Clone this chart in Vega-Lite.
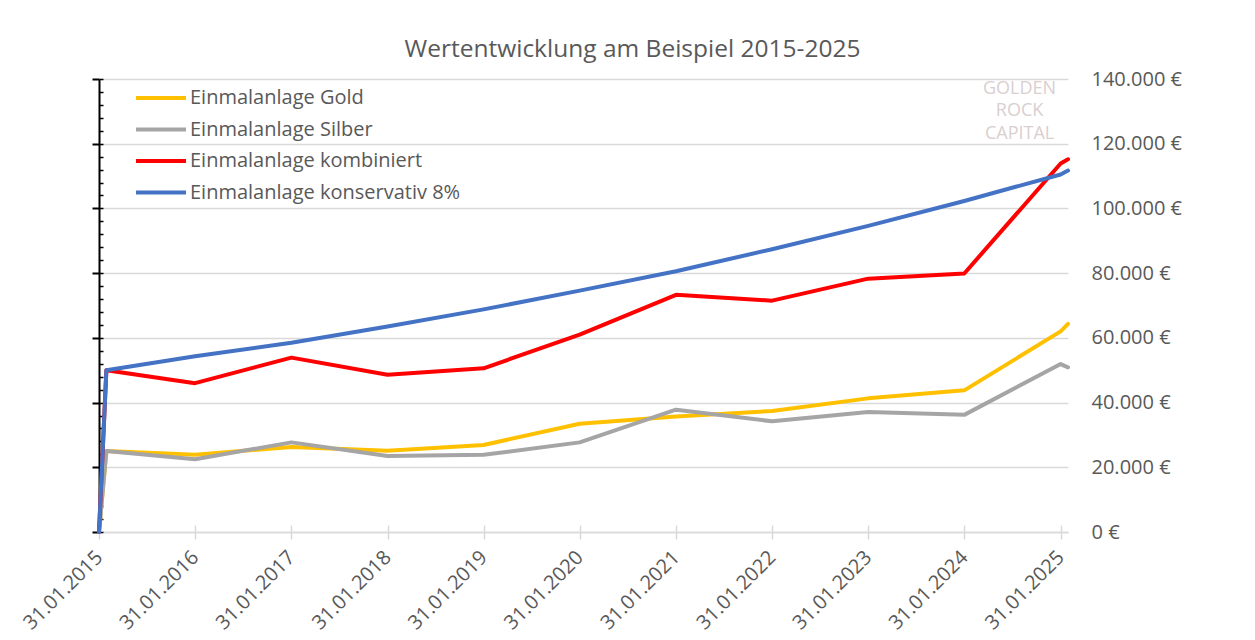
{
  "$schema": "https://vega.github.io/schema/vega-lite/v6.json",
  "width": 969,
  "height": 453,
  "autosize": {"type": "none"},
  "padding": {"left": 99, "top": 79, "right": 187, "bottom": 108},
  "background": "white",
  "config": {
    "font": "Open Sans",
    "view": {"stroke": null}
  },
  "title": {
    "text": "Wertentwicklung am Beispiel 2015-2025",
    "font": "Open Sans",
    "fontSize": 24.5,
    "fontWeight": "normal",
    "color": "#595959",
    "anchor": "middle",
    "frame": "group",
    "dx": 49,
    "offset": 7
  },
  "datasets": {
    "werte": [
      {"date": "2015-01-31", "series": "Einmalanlage Gold", "value": 0},
      {"date": "2015-02-28", "series": "Einmalanlage Gold", "value": 25000},
      {"date": "2016-01-31", "series": "Einmalanlage Gold", "value": 23850},
      {"date": "2017-01-31", "series": "Einmalanlage Gold", "value": 26300},
      {"date": "2018-01-31", "series": "Einmalanlage Gold", "value": 25100},
      {"date": "2019-01-31", "series": "Einmalanlage Gold", "value": 26900},
      {"date": "2020-01-31", "series": "Einmalanlage Gold", "value": 33450},
      {"date": "2021-01-31", "series": "Einmalanlage Gold", "value": 35700},
      {"date": "2022-01-31", "series": "Einmalanlage Gold", "value": 37400},
      {"date": "2023-01-31", "series": "Einmalanlage Gold", "value": 41300},
      {"date": "2024-01-31", "series": "Einmalanlage Gold", "value": 43780},
      {"date": "2025-01-31", "series": "Einmalanlage Gold", "value": 62000},
      {"date": "2025-02-28", "series": "Einmalanlage Gold", "value": 64300},
      {"date": "2015-01-31", "series": "Einmalanlage Silber", "value": 0},
      {"date": "2015-02-28", "series": "Einmalanlage Silber", "value": 25000},
      {"date": "2016-01-31", "series": "Einmalanlage Silber", "value": 22500},
      {"date": "2017-01-31", "series": "Einmalanlage Silber", "value": 27700},
      {"date": "2018-01-31", "series": "Einmalanlage Silber", "value": 23500},
      {"date": "2019-01-31", "series": "Einmalanlage Silber", "value": 23850},
      {"date": "2020-01-31", "series": "Einmalanlage Silber", "value": 27700},
      {"date": "2021-01-31", "series": "Einmalanlage Silber", "value": 37800},
      {"date": "2022-01-31", "series": "Einmalanlage Silber", "value": 34200},
      {"date": "2023-01-31", "series": "Einmalanlage Silber", "value": 37100},
      {"date": "2024-01-31", "series": "Einmalanlage Silber", "value": 36200},
      {"date": "2025-01-31", "series": "Einmalanlage Silber", "value": 51900},
      {"date": "2025-02-28", "series": "Einmalanlage Silber", "value": 50900},
      {"date": "2015-01-31", "series": "Einmalanlage kombiniert", "value": 0},
      {"date": "2015-02-28", "series": "Einmalanlage kombiniert", "value": 50000},
      {"date": "2016-01-31", "series": "Einmalanlage kombiniert", "value": 46000},
      {"date": "2017-01-31", "series": "Einmalanlage kombiniert", "value": 53900},
      {"date": "2018-01-31", "series": "Einmalanlage kombiniert", "value": 48600},
      {"date": "2019-01-31", "series": "Einmalanlage kombiniert", "value": 50600},
      {"date": "2020-01-31", "series": "Einmalanlage kombiniert", "value": 61000},
      {"date": "2021-01-31", "series": "Einmalanlage kombiniert", "value": 73300},
      {"date": "2022-01-31", "series": "Einmalanlage kombiniert", "value": 71500},
      {"date": "2023-01-31", "series": "Einmalanlage kombiniert", "value": 78300},
      {"date": "2024-01-31", "series": "Einmalanlage kombiniert", "value": 79900},
      {"date": "2025-01-31", "series": "Einmalanlage kombiniert", "value": 113900},
      {"date": "2025-02-28", "series": "Einmalanlage kombiniert", "value": 115200},
      {"date": "2015-01-31", "series": "Einmalanlage konservativ 8%", "value": 0},
      {"date": "2015-02-28", "series": "Einmalanlage konservativ 8%", "value": 50000},
      {"date": "2016-01-31", "series": "Einmalanlage konservativ 8%", "value": 54300},
      {"date": "2017-01-31", "series": "Einmalanlage konservativ 8%", "value": 58500},
      {"date": "2018-01-31", "series": "Einmalanlage konservativ 8%", "value": 63500},
      {"date": "2019-01-31", "series": "Einmalanlage konservativ 8%", "value": 68800},
      {"date": "2020-01-31", "series": "Einmalanlage konservativ 8%", "value": 74600},
      {"date": "2021-01-31", "series": "Einmalanlage konservativ 8%", "value": 80600},
      {"date": "2022-01-31", "series": "Einmalanlage konservativ 8%", "value": 87400},
      {"date": "2023-01-31", "series": "Einmalanlage konservativ 8%", "value": 94600},
      {"date": "2024-01-31", "series": "Einmalanlage konservativ 8%", "value": 102300},
      {"date": "2025-01-31", "series": "Einmalanlage konservativ 8%", "value": 110500},
      {"date": "2025-02-28", "series": "Einmalanlage konservativ 8%", "value": 111700}
    ]
  },
  "resolve": {"axis": {"x": "independent", "y": "independent"}},
  "layer": [
    {
      "data": {"name": "werte"},
      "mark": {"type": "line", "strokeWidth": 4, "strokeJoin": "round", "strokeCap": "round"},
      "encoding": {
        "x": {
          "field": "date",
          "type": "temporal",
          "scale": {
            "type": "utc",
            "domain": [
              {"year": 2015, "month": 1, "date": 31, "utc": true},
              {"year": 2025, "month": 2, "date": 28, "utc": true}
            ]
          },
          "axis": {
            "orient": "bottom",
            "title": null,
            "values": [
              {"year": 2015, "month": 1, "date": 31, "utc": true},
              {"year": 2016, "month": 1, "date": 31, "utc": true},
              {"year": 2017, "month": 1, "date": 31, "utc": true},
              {"year": 2018, "month": 1, "date": 31, "utc": true},
              {"year": 2019, "month": 1, "date": 31, "utc": true},
              {"year": 2020, "month": 1, "date": 31, "utc": true},
              {"year": 2021, "month": 1, "date": 31, "utc": true},
              {"year": 2022, "month": 1, "date": 31, "utc": true},
              {"year": 2023, "month": 1, "date": 31, "utc": true},
              {"year": 2024, "month": 1, "date": 31, "utc": true},
              {"year": 2025, "month": 1, "date": 31, "utc": true}
            ],
            "labelExpr": "utcFormat(datum.value, '%d.%m.%Y')",
            "labelAngle": -45,
            "labelAlign": "right",
            "labelBaseline": "middle",
            "labelPadding": 15,
            "labelFontSize": 20,
            "labelColor": "#595959",
            "labelFont": "Open Sans",
            "labelOverlap": false,
            "labelBound": false,
            "labelFlush": false,
            "domainColor": "#D9D9D9",
            "domainWidth": 1.5,
            "tickColor": "#D9D9D9",
            "tickWidth": 1.5,
            "tickSize": 7,
            "grid": false
          }
        },
        "y": {
          "field": "value",
          "type": "quantitative",
          "scale": {"domain": [0, 140000], "nice": false, "zero": true},
          "axis": {
            "orient": "right",
            "title": null,
            "values": [0, 20000, 40000, 60000, 80000, 100000, 120000, 140000],
            "labelExpr": "replace(format(datum.value, ',.0f'), ',', '.') + ' €'",
            "labelFontSize": 20,
            "labelColor": "#595959",
            "labelFont": "Open Sans",
            "labelPadding": 23,
            "domain": false,
            "ticks": false,
            "grid": true,
            "gridColor": "#D9D9D9",
            "gridWidth": 1.5
          }
        },
        "color": {
          "field": "series",
          "type": "nominal",
          "sort": ["Einmalanlage Gold", "Einmalanlage Silber", "Einmalanlage kombiniert", "Einmalanlage konservativ 8%"],
          "scale": {
            "domain": ["Einmalanlage Gold", "Einmalanlage Silber", "Einmalanlage kombiniert", "Einmalanlage konservativ 8%"],
            "range": ["#FFC000", "#A5A5A5", "#FF0000", "#4472C4"]
          },
          "legend": {
            "orient": "none",
            "legendX": 52,
            "legendY": 9,
            "title": null,
            "padding": 0,
            "symbolType": "M-5,0H5",
            "symbolSize": 100,
            "symbolStrokeWidth": 4,
            "labelOffset": 19,
            "labelFontSize": 20,
            "labelColor": "#595959",
            "labelFont": "Open Sans",
            "rowPadding": 11.5,
            "labelLimit": 400
          }
        }
      }
    },
    {
      "data": {"name": "werte"},
      "mark": {"type": "line", "opacity": 0},
      "encoding": {
        "x": {
          "field": "date",
          "type": "temporal",
          "axis": {
            "orient": "bottom",
            "title": null,
            "values": [
              {"year": 2015, "month": 1, "date": 31, "utc": true},
              {"year": 2016, "month": 1, "date": 31, "utc": true},
              {"year": 2017, "month": 1, "date": 31, "utc": true},
              {"year": 2018, "month": 1, "date": 31, "utc": true},
              {"year": 2019, "month": 1, "date": 31, "utc": true},
              {"year": 2020, "month": 1, "date": 31, "utc": true},
              {"year": 2021, "month": 1, "date": 31, "utc": true},
              {"year": 2022, "month": 1, "date": 31, "utc": true},
              {"year": 2023, "month": 1, "date": 31, "utc": true},
              {"year": 2024, "month": 1, "date": 31, "utc": true},
              {"year": 2025, "month": 1, "date": 31, "utc": true}
            ],
            "labels": false,
            "domain": false,
            "grid": false,
            "tickColor": "#D9D9D9",
            "tickWidth": 1.5,
            "tickSize": -7
          }
        },
        "y": {
          "field": "value",
          "type": "quantitative",
          "axis": {
            "orient": "left",
            "title": null,
            "values": [0, 20000, 40000, 60000, 80000, 100000, 120000, 140000],
            "labels": false,
            "grid": false,
            "domainColor": "#000000",
            "domainWidth": 2,
            "tickColor": "#000000",
            "tickWidth": 2,
            "tickSize": 7
          }
        },
        "detail": {"field": "series"}
      }
    },
    {
      "data": {"name": "werte"},
      "mark": {"type": "line", "opacity": 0},
      "encoding": {
        "x": {"field": "date", "type": "temporal", "axis": null},
        "y": {
          "field": "value",
          "type": "quantitative",
          "axis": {
            "orient": "left",
            "title": null,
            "values": [0, 4000, 8000, 12000, 16000, 20000, 24000, 28000, 32000, 36000, 40000, 44000, 48000, 52000, 56000, 60000, 64000, 68000, 72000, 76000, 80000, 84000, 88000, 92000, 96000, 100000, 104000, 108000, 112000, 116000, 120000, 124000, 128000, 132000, 136000, 140000],
            "labels": false,
            "grid": false,
            "domain": false,
            "tickColor": "#000000",
            "tickWidth": 1.5,
            "tickSize": -4
          }
        },
        "detail": {"field": "series"}
      }
    },
    {
      "data": {"values": [{"t": "GOLDEN"}]},
      "mark": {"type": "text", "font": "Open Sans", "fontSize": 18, "align": "center", "baseline": "middle", "color": "#D9CFCF"},
      "encoding": {
        "x": {"datum": {"year": 2024, "month": 8, "date": 28, "utc": true}, "type": "temporal", "axis": null},
        "y": {"datum": 137000, "type": "quantitative", "axis": null},
        "text": {"field": "t"}
      }
    },
    {
      "data": {"values": [{"t": "ROCK"}]},
      "mark": {"type": "text", "font": "Open Sans", "fontSize": 18, "align": "center", "baseline": "middle", "color": "#D9CFCF"},
      "encoding": {
        "x": {"datum": {"year": 2024, "month": 8, "date": 28, "utc": true}, "type": "temporal", "axis": null},
        "y": {"datum": 130000, "type": "quantitative", "axis": null},
        "text": {"field": "t"}
      }
    },
    {
      "data": {"values": [{"t": "CAPITAL"}]},
      "mark": {"type": "text", "font": "Open Sans", "fontSize": 18, "align": "center", "baseline": "middle", "color": "#D9CFCF"},
      "encoding": {
        "x": {"datum": {"year": 2024, "month": 8, "date": 28, "utc": true}, "type": "temporal", "axis": null},
        "y": {"datum": 123000, "type": "quantitative", "axis": null},
        "text": {"field": "t"}
      }
    }
  ]
}
